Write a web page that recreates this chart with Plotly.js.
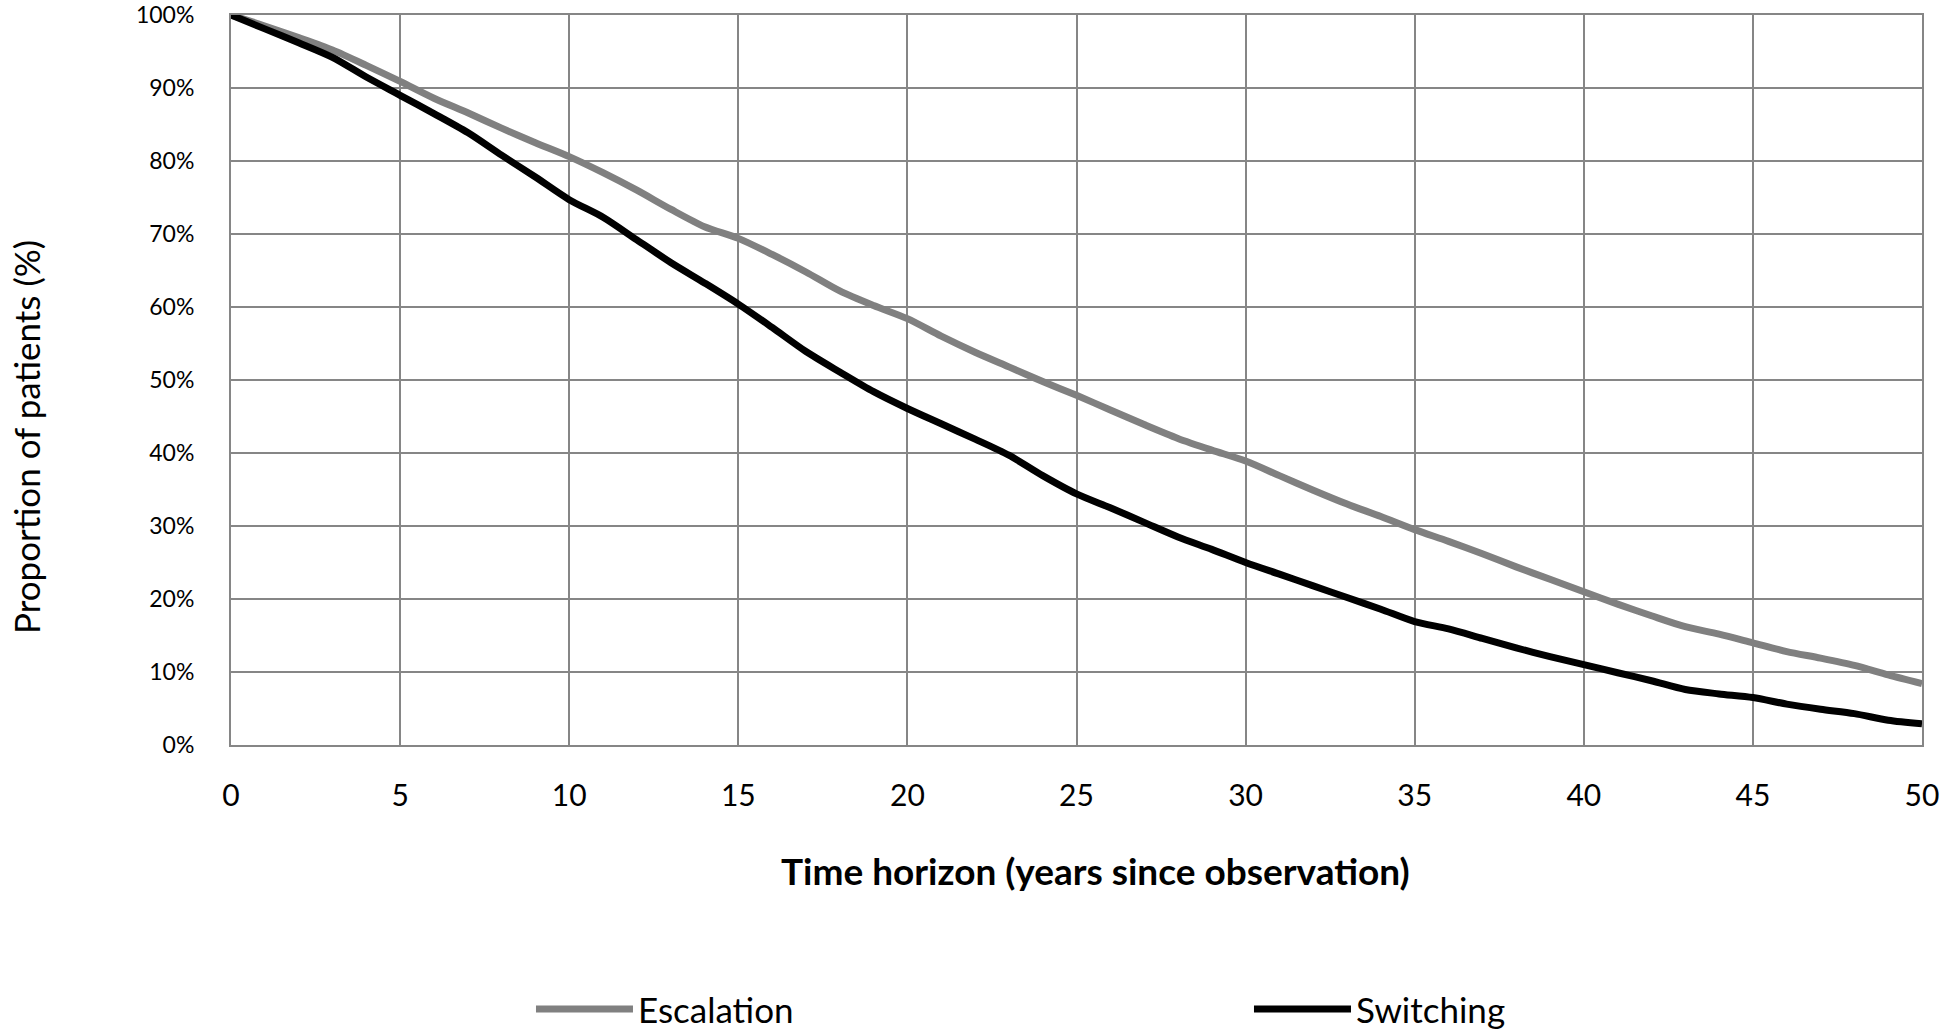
<!DOCTYPE html>
<html>
<head>
<meta charset="utf-8">
<script src="https://cdn.plot.ly/plotly-3.0.1.min.js"></script>
<style>html,body{margin:0;padding:0;background:#fff;}#chart{width:1946px;height:1032px;}</style>
</head>
<body>
<div id="chart"></div>
<script>
const years = [0,1,2,3,4,5,6,7,8,9,10,11,12,13,14,15,16,17,18,19,20,21,22,23,24,25,26,27,28,29,30,31,32,33,34,35,36,37,38,39,40,41,42,43,44,45,46,47,48,49,50];
const escalation = [100,98.5,96.9,95.2,93.1,90.9,88.6,86.6,84.5,82.5,80.6,78.4,76.0,73.4,71.0,69.4,67.2,64.8,62.2,60.2,58.4,56.0,53.8,51.8,49.8,47.9,45.9,43.9,42.0,40.4,38.9,36.9,34.9,33.0,31.3,29.5,27.9,26.2,24.4,22.7,21.0,19.3,17.7,16.2,15.2,14.0,12.8,11.9,10.9,9.6,8.4];
const switching = [100,98.1,96.2,94.2,91.5,89.0,86.5,83.9,80.8,77.8,74.7,72.3,69.2,66.1,63.3,60.4,57.2,53.9,51.1,48.4,46.1,44.0,41.9,39.7,36.9,34.4,32.5,30.5,28.5,26.8,25.0,23.4,21.8,20.2,18.6,16.9,15.9,14.6,13.3,12.1,11.0,9.9,8.8,7.6,7.0,6.5,5.6,4.9,4.3,3.4,2.9];
const seriesNames = ["Escalation","Switching"];
const xTitle = "Time horizon (years since observation)";
const yTitle = "Proportion of patients (%)";

const FONT = "Lato, Carlito, 'Liberation Sans Narrow', sans-serif";
const traces = [
  {x: years, y: escalation, name: seriesNames[0], type: "scatter", mode: "lines",
   line: {color: "#808080", width: 7, shape: "spline", smoothing: 0.8}},
  {x: years, y: switching, name: seriesNames[1], type: "scatter", mode: "lines",
   line: {color: "#000000", width: 7, shape: "spline", smoothing: 0.8}}
];
const layout = {
  width: 1946, height: 1032,
  paper_bgcolor: "#ffffff", plot_bgcolor: "#ffffff",
  margin: {l: 231, r: 24, t: 15, b: 287, autoexpand: false},
  font: {family: FONT, color: "#000000", size: 24},
  showlegend: true,
  legend: {orientation: "h", x: 0.1774, xanchor: "left", y: -0.362, yanchor: "middle",
           font: {size: 35, family: FONT}, entrywidth: 606, entrywidthmode: "pixels", itemwidth: 97,
           tracegroupgap: 0},
  xaxis: {
    range: [0, 50], tickmode: "linear", tick0: 0, dtick: 5,
    showgrid: true, gridcolor: "#868686", gridwidth: 2,
    showline: true, linecolor: "#868686", linewidth: 2, mirror: true,
    zeroline: false, ticks: "", ticklabelstandoff: 23, ticklabeloverflow: "allow",
    automargin: false,
    tickfont: {size: 30, family: FONT}
  },
  yaxis: {
    range: [0, 100], tickmode: "linear", tick0: 0, dtick: 10,
    ticksuffix: "%",
    showgrid: true, gridcolor: "#868686", gridwidth: 2,
    showline: true, linecolor: "#868686", linewidth: 2, mirror: true,
    zeroline: false, ticks: "", ticklabelstandoff: 30, ticklabeloverflow: "allow",
    automargin: false,
    tickfont: {size: 23, family: FONT}
  },
  annotations: [
    {text: xTitle, xref: "paper", yref: "paper", x: 0.511, y: -0.1726,
     xanchor: "center", yanchor: "middle", showarrow: false,
     font: {size: 37, family: FONT, weight: "bold", color: "#000000"}},
    {text: yTitle, xref: "paper", yref: "paper", x: -0.1212, y: 0.422, textangle: -90,
     xanchor: "center", yanchor: "middle", showarrow: false,
     font: {size: 35, family: FONT, color: "#000000"}}
  ]
};
Plotly.newPlot("chart", traces, layout, {displayModeBar: false, staticPlot: true});
</script>
</body>
</html>
